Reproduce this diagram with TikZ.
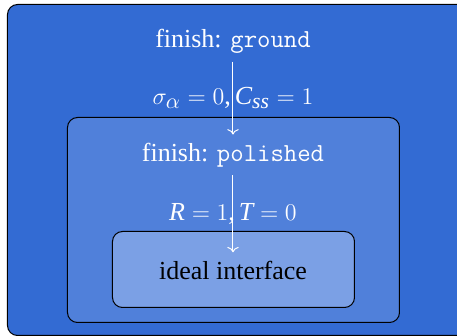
\documentclass[tikz,border=0pt]{standalone}
\usepackage{fontspec}
\setmainfont{Liberation Serif}
\usepackage[italic]{mathastext}
\usetikzlibrary{arrows.meta}
\definecolor{outerblue}{HTML}{336BD3}
\definecolor{midblue}{HTML}{5080DA}
\definecolor{innerblue}{HTML}{7BA0E5}
\tikzset{
  layer/.style={draw=black,line width=0.5pt,rounded corners=5pt,anchor=north west,inner sep=0pt},
  title/.style={text=white,font=\fontsize{13}{15}\selectfont,inner sep=4pt},
  cond/.style={text=white,font=\fontsize{13}{15}\selectfont,midway},
  flow/.style={->,draw=white,line width=0.5pt}
}
\begin{document}
\begin{tikzpicture}[x=0.5pt,y=-0.5pt]
  \useasboundingbox (0,0) rectangle (457,336);

  % nested finish layers
  \node[layer,fill=outerblue,minimum width=460pt,minimum height=165.5pt] (ground box) at (7,4) {};
  \node[layer,fill=midblue,minimum width=166pt,minimum height=102.5pt] (polished box) at (67,117) {};
  \node[layer,fill=innerblue,minimum width=121pt,minimum height=38pt] (ideal box) at (112,231) {};

  \node[title] (ground) at (233,41) {finish: \texttt{ground}};
  \node[title] (polished) at (233,155) {finish: \texttt{polished}};
  \node[text=black,font=\fontsize{13}{15}\selectfont,inner sep=4pt] (ideal) at (233,270) {ideal interface};

  % transitions
  \draw[flow] (ground) -- node[cond] (cond ground) {$\sigma_\alpha = 0, C_{ss} = 1$} (polished);
  \draw[flow] (polished) -- node[cond] (cond polished) {$R = 1, T = 0$} (ideal);
\end{tikzpicture}
\end{document}
